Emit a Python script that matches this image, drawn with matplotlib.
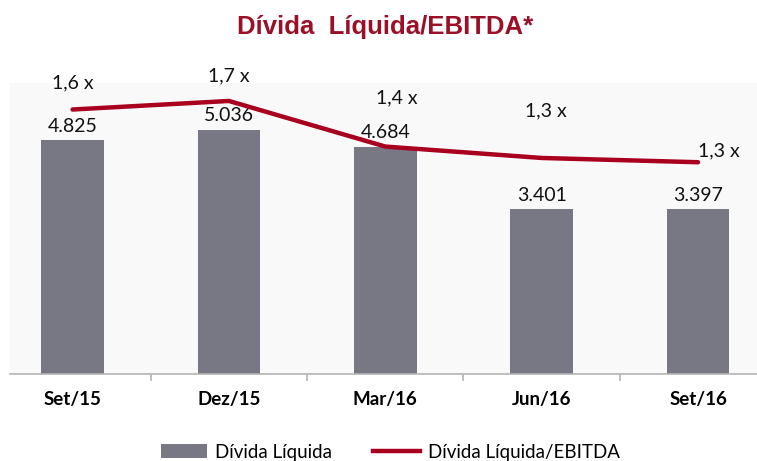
import matplotlib.pyplot as plt
from matplotlib.lines import Line2D
from matplotlib.patches import Patch
import numpy as np

# Data
periods = ["Set/15", "Dez/15", "Mar/16", "Jun/16", "Set/16"]
net_debt = [4825, 5036, 4684, 3401, 3397]
debt_labels = ["4.825", "5.036", "4.684", "3.401", "3.397"]
leverage = [1.64, 1.70, 1.38, 1.30, 1.27]
leverage_labels = ["1,6 x", "1,7 x", "1,4 x", "1,3 x", "1,3 x"]

bar_color = "#787884"
line_color = "#a8001e"
title_color = "#9b1027"

plt.rcParams["font.family"] = ["Lato", "DejaVu Sans"]

fig = plt.figure(figsize=(7.57, 4.61), dpi=100)
ax = fig.add_axes([10 / 757, 1 - 374 / 461, 747 / 757, 291 / 461])
ax.set_facecolor("#f9f9f9")

x = np.arange(len(periods))
ax.bar(x, net_debt, width=0.4, color=bar_color, zorder=2)
ax.set_ylim(0, 6000)
ax.set_xlim(-0.4, 4.377)

for xi, v, lab in zip(x, net_debt, debt_labels):
    ax.annotate(lab, (xi, v), xytext=(0, 10), textcoords="offset points",
                ha="center", va="center", fontsize=14, color="#111111")

# spines / ticks
for s in ["top", "right", "left"]:
    ax.spines[s].set_visible(False)
ax.spines["bottom"].set_color("#b4b4b4")
ax.spines["bottom"].set_linewidth(1.2)
ax.set_yticks([])
ax.set_xticks(x)
ax.set_xticklabels(periods, fontsize=13.5, fontweight="bold")
ax.tick_params(axis="x", which="major", length=0, pad=12)
ax.set_xticks(x[:-1] + 0.5, minor=True)
ax.tick_params(axis="x", which="minor", length=5, color="#b4b4b4", width=1.2)

# secondary axis for the ratio line
ax2 = ax.twinx()
ax2.plot(x, leverage, color=line_color, linewidth=3.2, solid_capstyle="round", zorder=3)
ax2.set_ylim(-0.216, 1.826)
ax2.set_yticks([])
for s in ["top", "right", "left", "bottom"]:
    ax2.spines[s].set_visible(False)

# Excel style label placement, last label sits right of its point
offsets = [(0, 19), (0, 18), (8, 35), (3, 34), (0, 8)]
aligns = ["center", "center", "center", "center", "left"]
for xi, v, lab, off, ha in zip(x, leverage, leverage_labels, offsets, aligns):
    ax2.annotate(lab, (xi, v), xytext=off, textcoords="offset points",
                 ha=ha, va="center", fontsize=14, color="#111111")

fig.text(385 / 757, 1 - 27 / 461, "Dívida  Líquida/EBITDA*", ha="center", va="center",
         fontsize=18.5, fontweight="bold", color=title_color,
         family=["Liberation Sans Narrow", "Liberation Sans", "DejaVu Sans"])

handles = [Patch(facecolor=bar_color), Line2D([0], [0], color=line_color, linewidth=3.2)]
fig.legend(handles, ["Dívida Líquida", "Dívida Líquida/EBITDA"], loc="center",
           bbox_to_anchor=(390 / 757, 1 - 452 / 461), ncol=2, frameon=False,
           fontsize=13.5, handlelength=2.5, handleheight=0.8, handletextpad=0.4,
           columnspacing=2.2)

fig.savefig("out.png", dpi=100)
